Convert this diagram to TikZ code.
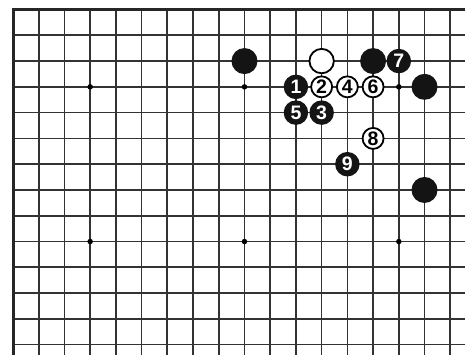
\documentclass[tikz,border=0pt]{standalone}
\usepackage{fontspec}
\setmainfont{Liberation Sans}
\begin{document}
\begin{tikzpicture}[x=1pt,y=-1pt,
  gridline/.style={line width=1.7pt,black!80},
  borderline/.style={line width=3pt,black!85,line cap=rect},
  starpt/.style={circle,fill=black,minimum size=5.5pt,inner sep=0pt},
  bstone/.style={circle,fill=black!92,minimum size=26pt,inner sep=0pt},
  wstone/.style={circle,draw=black,line width=1.8pt,fill=white,minimum size=24.4pt,inner sep=0pt},
  bnum/.style={circle,fill=black!92,minimum size=24.5pt,inner sep=0pt,text=white,font=\fontsize{19.5}{19.5}\selectfont\bfseries},
  wnum/.style={circle,draw=black,line width=1.8pt,fill=white,minimum size=21pt,inner sep=0pt,text=black,font=\fontsize{19.5}{19.5}\selectfont\bfseries}]
\useasboundingbox (0,0) rectangle (465,354);
\fill[white] (0,0) rectangle (465,354);
\begin{scope}[shift={(13,9.5)},x=25.72pt,y=-25.78pt]
  \foreach \c in {1,...,17} \draw[gridline] (\c,0) -- (\c,13.5);
  \foreach \r in {1,...,13} \draw[gridline] (0,\r) -- (17.7,\r);
  \draw[borderline] (17.7,0) -- (0,0) -- (0,13.5);
  \foreach \c/\r [count=\i] in {3/3,9/3,15/3,3/9,9/9,15/9}
    \node[starpt] (star\i) at (\c,\r) {};
  % plain stones
  \node[bstone] (bA) at (9,2) {};
  \node[wstone] (wA) at (12,2) {};
  \node[bstone] (bB) at (14,2) {};
  \node[bstone] (bC) at (16,3) {};
  \node[bstone] (bD) at (16,7) {};
  % numbered stones
  \node[bnum] (m1) at (11,3) {1};
  \node[wnum] (m2) at (12,3) {2};
  \node[bnum] (m3) at (12,4) {3};
  \node[wnum] (m4) at (13,3) {4};
  \node[bnum] (m5) at (11,4) {5};
  \node[wnum] (m6) at (14,3) {6};
  \node[bnum] (m7) at (15,2) {7};
  \node[wnum] (m8) at (14,5) {8};
  \node[bnum] (m9) at (13,6) {9};
\end{scope}
\end{tikzpicture}
\end{document}
